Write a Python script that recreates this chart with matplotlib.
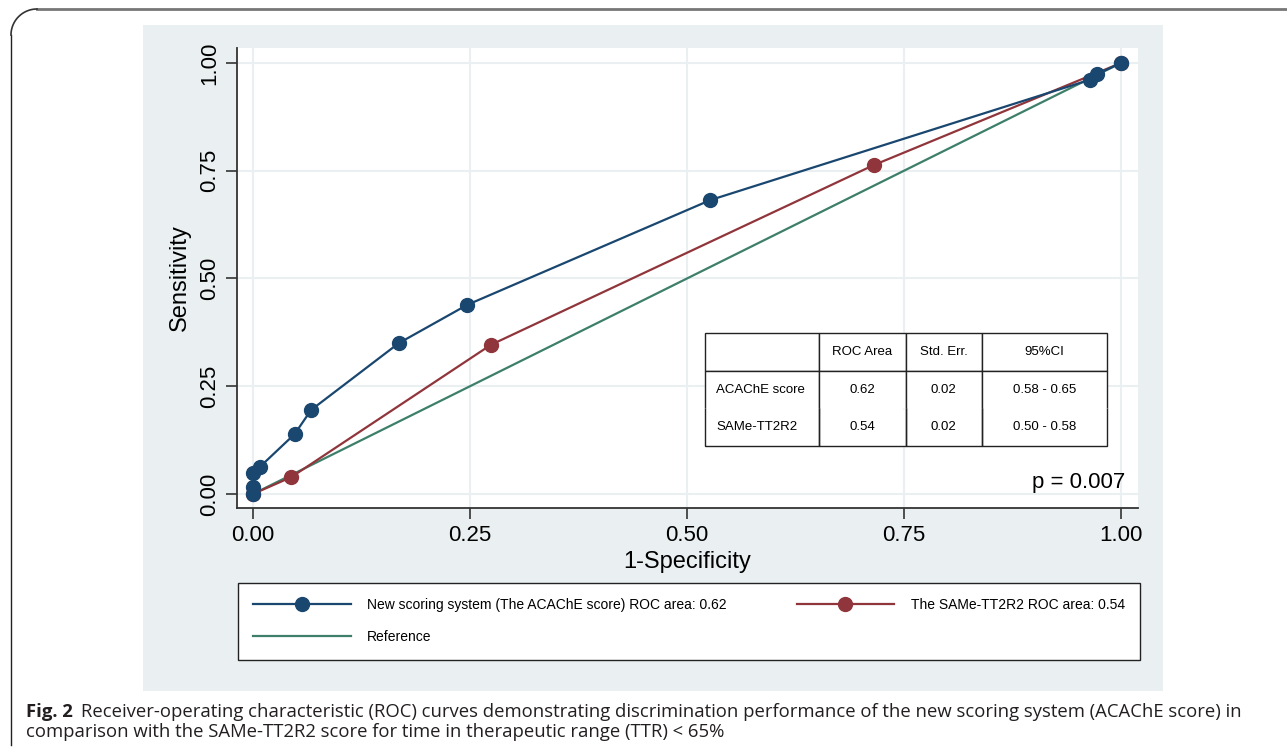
import matplotlib
matplotlib.use("Agg")
import numpy as np
import matplotlib.pyplot as plt
from matplotlib.lines import Line2D
from matplotlib.patches import Rectangle

# ROC points
acache_fpr = [0.0, 0.0, 0.0, 0.008, 0.048, 0.067, 0.168, 0.247, 0.527, 0.964, 0.972, 1.0]
acache_tpr = [0.0, 0.016, 0.049, 0.063, 0.139, 0.195, 0.350, 0.439, 0.682, 0.961, 0.974, 1.0]
same_fpr = [0.0, 0.044, 0.274, 0.715, 1.0]
same_tpr = [0.0, 0.039, 0.346, 0.763, 1.0]
ref_x = [0.0, 1.0]
ref_y = [0.0, 1.0]

ticks = [0.0, 0.25, 0.5, 0.75, 1.0]
tick_labels = ["0.00", "0.25", "0.50", "0.75", "1.00"]

table_cols = ["", "ROC Area", "Std. Err.", "95%CI"]
table_rows = [["ACAChE score", "0.62", "0.02", "0.58 - 0.65"],
              ["SAMe-TT2R2", "0.54", "0.02", "0.50 - 0.58"]]

label_acache = "New scoring system (The ACAChE score) ROC area: 0.62"
label_same = "The SAMe-TT2R2 ROC area: 0.54"
label_ref = "Reference"

caption_bold = "Fig. 2"
caption_1 = ("Receiver-operating characteristic (ROC) curves demonstrating discrimination performance "
             "of the new scoring system (ACAChE score) in")
caption_2 = "comparison with the SAMe-TT2R2 score for time in therapeutic range (TTR) < 65%"

BLUE = "#1a476f"
RED = "#90353b"
GREEN = "#3d7f6a"
PANEL = "#eaf0f2"

W, H = 1287, 754
fig = plt.figure(figsize=(W / 100, H / 100), dpi=100)
plt.rcParams['font.family'] = ['Liberation Sans', 'DejaVu Sans']


def fx(px):
    return px / W


def fy(py):
    return 1 - py / H


# outer frame of the figure box (left line, top line, rounded corner)
r = 26
fig.add_artist(Line2D([fx(11), fx(11)], [fy(9 + r), fy(745)], color="#222222", lw=1.0,
                      transform=fig.transFigure))
fig.add_artist(Line2D([fx(11 + r), 1.0], [fy(9), fy(9)], color="#777777", lw=2.0,
                      transform=fig.transFigure))
t = np.linspace(np.pi / 2, np.pi, 30)
cx, cy = 11 + r, 9 + r
fig.add_artist(Line2D(fx(cx + r * np.cos(t)), fy(cy - r * np.sin(t)),
                      color="#333333", lw=1.2, transform=fig.transFigure))

# Stata-like gray panel
fig.add_artist(Rectangle((fx(143), fy(691)), fx(1163) - fx(143), fy(25) - fy(691),
                         fc=PANEL, ec="none", transform=fig.transFigure, zorder=0))

ax = fig.add_axes([fx(237), fy(508), fx(1138) - fx(237), fy(48) - fy(508)])
ax.set_facecolor("white")
ax.set_xlim(-0.0184, 1.0196)
ax.set_ylim(-0.0325, 1.0348)

ax.plot(ref_x, ref_y, color=GREEN, lw=1.6, zorder=2, label=label_ref)
ax.plot(same_fpr, same_tpr, color=RED, lw=1.6, marker="o", ms=10, zorder=3, label=label_same)
ax.plot(acache_fpr, acache_tpr, color=BLUE, lw=1.6, marker="o", ms=10, zorder=4, label=label_acache)

ax.set_xticks(ticks)
ax.set_xticklabels(tick_labels, fontsize=16)
ax.set_yticks(ticks)
ax.set_yticklabels(tick_labels, fontsize=16, rotation=90, va="center")
ax.grid(True, color=PANEL, lw=1.5)
ax.set_axisbelow(True)
for s in ["top", "right"]:
    ax.spines[s].set_visible(False)
for s in ["left", "bottom"]:
    ax.spines[s].set_color("#333333")
    ax.spines[s].set_linewidth(1.3)
ax.tick_params(direction="out", length=8, width=1.2, color="#333333", pad=4)
ax.set_xlabel("1-Specificity", fontsize=17, labelpad=4)
ax.set_ylabel("Sensitivity", fontsize=17, labelpad=6)

# summary table
tab = ax.table(cellText=table_rows, colLabels=table_cols, cellLoc="center",
               colWidths=[114, 87, 76, 125],
               bbox=[0.519, 0.1348, 0.9656 - 0.519, 0.3804 - 0.1348], zorder=5)
tab.auto_set_font_size(False)
for (r_, c_), cell in tab.get_celld().items():
    cell.set_fontsize(9.5)
    cell.set_linewidth(1.0)
    cell.set_edgecolor("#222222")
    if r_ == 0:
        cell.visible_edges = "closed"
    elif r_ == 1:
        cell.visible_edges = "LRT"
    else:
        cell.visible_edges = "LRB"
    if c_ == 0 and r_ > 0:
        cell.get_text().set_horizontalalignment("left")
ax.text(0.9856, 0.0565, "p = 0.007", transform=ax.transAxes, ha="right", va="center", fontsize=16)

# legend box
h_ac = Line2D([], [], color=BLUE, lw=1.6, marker="o", ms=10)
h_sa = Line2D([], [], color=RED, lw=1.6, marker="o", ms=10)
h_rf = Line2D([], [], color=GREEN, lw=1.6)
leg = fig.legend([h_ac, h_rf, h_sa], [label_acache, label_ref, label_same], ncol=2,
                 loc="upper left",
                 bbox_to_anchor=(fx(238), fy(660), fx(1140) - fx(238), fy(583) - fy(660)),
                 mode="expand", fontsize=10, frameon=True, fancybox=False, edgecolor="#222222",
                 facecolor="white", framealpha=1,
                 handlelength=7, handletextpad=1.2, labelspacing=1.3, borderpad=1.1,
                 borderaxespad=0, columnspacing=1.0)
leg.get_frame().set_linewidth(1.0)

# caption
cap_font = ['Open Sans', 'DejaVu Sans']
tb = fig.text(fx(26), fy(717), caption_bold, fontsize=13.3, fontweight="bold", va="baseline",
              family=cap_font, color="#231f20")
fig.canvas.draw()
bb = tb.get_window_extent()
fig.text(bb.x1 / W + fx(8), fy(717), caption_1, fontsize=13.3, va="baseline", family=cap_font,
         color="#231f20")
fig.text(fx(26), fy(737), caption_2, fontsize=13.3, va="baseline", family=cap_font, color="#231f20")

fig.savefig("out.png", dpi=100)
